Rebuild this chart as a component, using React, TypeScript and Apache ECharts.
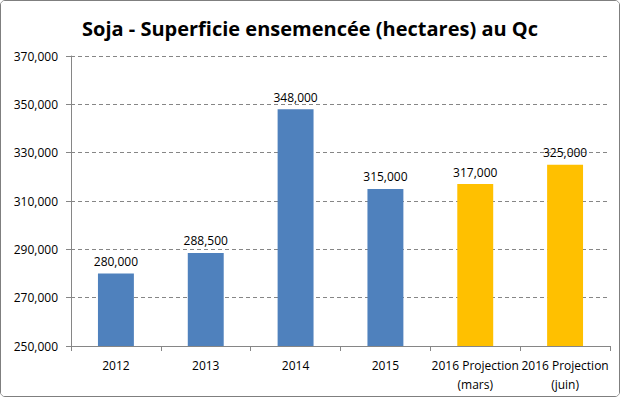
import React, { useEffect, useRef } from "react";
import * as echarts from "echarts";

const categories = ["2012", "2013", "2014", "2015", "2016 Projection\n(mars)", "2016 Projection\n(juin)"];
const values = [280000, 288500, 348000, 315000, 317000, 325000];
const barColors = ["#4F81BD", "#4F81BD", "#4F81BD", "#4F81BD", "#FFC000", "#FFC000"];
const title = "Soja - Superficie ensemencée (hectares) au Qc";

const fmt = (v: number) => v.toLocaleString("en-US");

export default function App() {
  const ref = useRef<HTMLDivElement>(null);
  useEffect(() => {
    if (!ref.current) return;
    const chart = echarts.init(ref.current, null, { renderer: "svg" });
    chart.setOption({
      animation: false,
      backgroundColor: "#ffffff",
      title: {
        text: title,
        left: "center",
        top: 12,
        textStyle: { fontFamily: "Open Sans", fontWeight: "bold", fontSize: 20, color: "#000" },
      },
      grid: { left: 70, right: 9, top: 55, bottom: 50 },
      xAxis: {
        type: "category",
        data: categories,
        axisLine: { lineStyle: { color: "#868686" } },
        axisTick: { show: true, alignWithLabel: false, length: 5, lineStyle: { color: "#868686" } },
        axisLabel: { color: "#000", fontFamily: "Open Sans", fontSize: 12, margin: 10, lineHeight: 19, interval: 0 },
      },
      yAxis: {
        type: "value",
        min: 250000,
        max: 370000,
        interval: 20000,
        axisLine: { show: true, lineStyle: { color: "#868686" } },
        axisTick: { show: true, length: 5, lineStyle: { color: "#868686" } },
        axisLabel: { color: "#000", fontFamily: "Open Sans", fontSize: 12, margin: 13, formatter: (v: number) => fmt(v) },
        splitLine: { show: true, lineStyle: { color: "#868686", type: [4, 3] } },
      },
      series: [
        {
          type: "bar",
          barWidth: "40%",
          data: values.map((v, i) => ({ value: v, itemStyle: { color: barColors[i] } })),
          label: {
            show: true,
            position: "top",
            distance: 6,
            color: "#000",
            fontFamily: "Open Sans",
            fontSize: 12,
            formatter: (p: any) => fmt(p.value),
          },
        },
      ],
    });
    return () => chart.dispose();
  }, []);
  return (
    <div
      style={{
        position: "fixed",
        left: 0,
        top: 0,
        width: 620,
        height: 397,
        boxSizing: "border-box",
        border: "1px solid #7f7f7f",
        borderRadius: 5,
        overflow: "hidden",
        background: "#fff",
      }}
    >
      <div ref={ref} style={{ width: 618, height: 395 }} />
    </div>
  );
}
